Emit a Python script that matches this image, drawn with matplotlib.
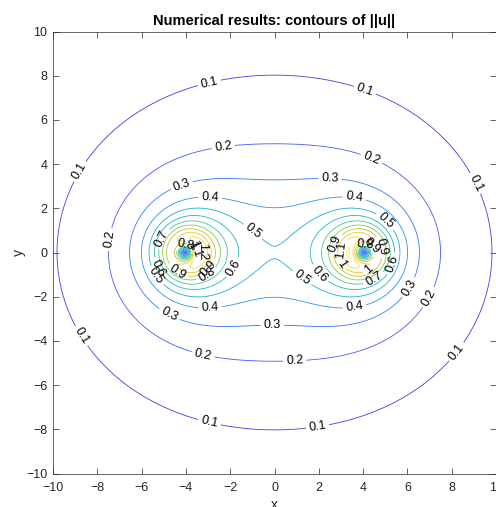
import numpy as np
import matplotlib
matplotlib.use('Agg')
import matplotlib.pyplot as plt
from matplotlib.colors import LinearSegmentedColormap, Normalize

plt.rcParams['font.family'] = ['Liberation Sans', 'DejaVu Sans']

# vortex pair (counter-rotating)
vortex_x = [-4.0, 4.0]
vortex_y = [0.0, 0.0]
vortex_strength = [1.005, -1.005]   # |u| ~ strength / r far from core
core_radius = 0.6

levels = [0.1, 0.2, 0.3, 0.4, 0.5, 0.6, 0.7, 0.8, 0.9, 1.0, 1.1, 1.2]

# parula (MATLAB default), sampled
parula_rgb = [
    (0.2422, 0.1504, 0.6603), (0.2706, 0.2147, 0.8364), (0.2813, 0.3006, 0.9414),
    (0.2699, 0.3892, 0.9906), (0.1963, 0.4847, 0.9892), (0.1248, 0.6459, 0.8883),
    (0.0964, 0.7500, 0.7120), (0.3909, 0.8029, 0.4354), (0.8203, 0.7498, 0.1535),
    (0.9892, 0.8136, 0.1885), (0.9769, 0.9839, 0.0805)]
parula_pos = [0, 4 / 63, 8 / 63, 12 / 63, 16 / 63, 24 / 63, 32 / 63, 40 / 63, 48 / 63, 56 / 63, 1]
parula = LinearSegmentedColormap.from_list('parula', list(zip(parula_pos, parula_rgb)))

x = np.linspace(-10, 10, 801)
X, Y = np.meshgrid(x, x)
U = np.zeros_like(X)
V = np.zeros_like(X)
for xc, yc, g in zip(vortex_x, vortex_y, vortex_strength):
    dx = X - xc
    dy = Y - yc
    r2 = dx**2 + dy**2
    safe = np.where(r2 > 0, r2, 1.0)
    f = np.where(r2 > 0, (1 - np.exp(-r2 / core_radius**2)) / safe, 1 / core_radius**2) * g
    U += -dy * f
    V += dx * f
speed = np.hypot(U, V)

# where the labels sit (layout only)
label_pos = [
    (-2.9, 7.5), (4.1, 7.4), (-9.0, 3.8), (9.2, 3.2), (-8.6, -3.7), (8.1, -4.4), (-2.9, -7.5), (1.9, -7.6),
    (-2.3, 4.7), (4.4, 4.3), (-7.5, 0.6), (6.9, -2.0), (-3.2, -4.5), (0.9, -4.7),
    (-4.2, 3.1), (2.5, 3.3), (-4.8, -2.9), (-0.1, -3.2), (6.1, -1.6),
    (-2.9, 2.5), (3.6, 2.5), (-2.9, -2.4), (3.6, -2.4),
    (-1.1, 0.8), (1.2, -1.2), (5.0, 1.4), (-5.4, -1.1),
    (-2.0, -0.6), (2.0, -1.0), (5.3, -0.5), (-5.4, -0.8),
    (-3.0, -1.1), (4.5, -1.2),
    (-5.0, 0.6), (2.7, 0.4),
    (-4.4, -0.9), (-3.0, -0.7), (2.95, -0.55), (4.3, -0.8),
    (-3.2, 0.05), (2.95, 0.1),
    (-4.0, 0.35), (-3.7, 0.3), (-3.5, 0.2), (4.1, 0.35), (4.4, 0.3), (4.6, 0.2),
]

fig = plt.figure(figsize=(4.96, 5.07), dpi=100)
ax = fig.add_axes([53 / 496, 33.5 / 507, 443 / 496, 442 / 507])

cs = ax.contour(X, Y, speed, levels=levels, cmap=parula,
                norm=Normalize(0, speed.max()), linewidths=0.6)
ax.clabel(cs, manual=label_pos, inline=True, inline_spacing=3,
          fontsize=9, colors='k', fmt='%g')

ax.set_xlim(-10, 10)
ax.set_ylim(-10, 10)
ax.set_xticks(range(-10, 11, 2))
ax.set_yticks(range(-10, 11, 2))
grey = (0.15, 0.15, 0.15)
ax.tick_params(direction='in', length=4, width=0.5, top=True, right=True,
               labelsize=9, colors=grey)
ax.tick_params(axis='x', pad=6)
ax.tick_params(axis='y', pad=4)
for s in ax.spines.values():
    s.set_linewidth(0.5)
    s.set_color(grey)
ax.set_xlabel('x', fontsize=10, color=grey, labelpad=3)
ax.set_ylabel('y', fontsize=10, color=grey, labelpad=0.5)
ax.set_title('Numerical results: contours of ||u||', fontsize=10.5, fontweight='bold', pad=5)

fig.savefig('out.png', dpi=100)
